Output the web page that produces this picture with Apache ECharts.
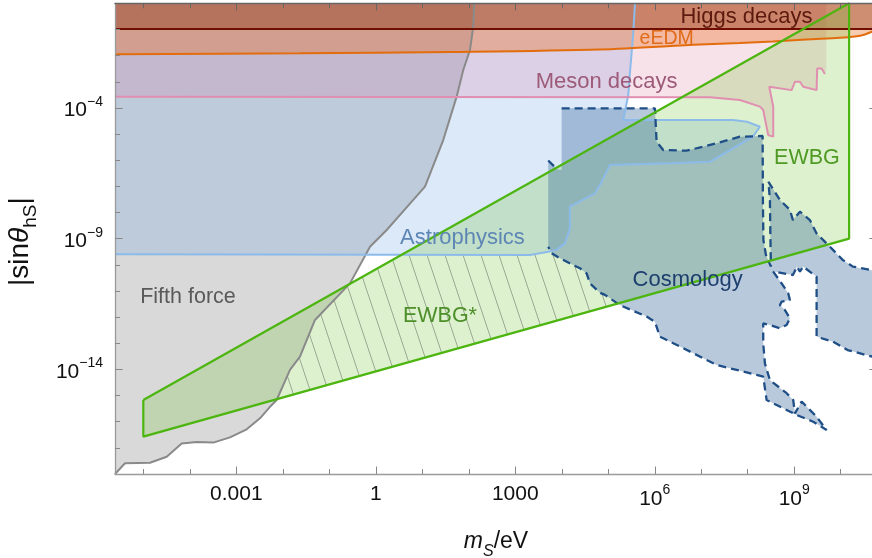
<!DOCTYPE html>
<html><head><meta charset="utf-8">
<script src="https://cdn.jsdelivr.net/npm/echarts@6/dist/echarts.min.js"></script>
<style>html,body{margin:0;padding:0;background:#fff}#c{width:872px;height:558px}</style>
</head><body><div id="c"></div>
<script>
const FONT = '"Liberation Sans", Arial, Helvetica, sans-serif';
// All coordinates below are log10(m_S / eV) and log10|sin theta_hS|
const xMin = -5.609, xMax = 10.78, yMin = -18, yMax = 0;
const xMajorTicks = [-3, 0, 3, 6, 9];
const xTickLabels = ['0.001', '1', '1000', '10^6', '10^9'];
const xMinorTicks = [-5, -4, -2, -1, 1, 2, 4, 5, 7, 8, 10];
const yMajorTicks = [-4, -9, -14];
const yTickLabels = ['10^-4', '10^-9', '10^-14'];
const yMinorTicks = [-17, -16, -15, -13, -12, -11, -10, -8, -7, -6, -5, -3, -2, -1];

const fifthForceEdge = [[-5.609,-18.0],[-5.394,-17.59],[-4.856,-17.57],[-4.497,-17.34],[-4.175,-16.83],[-3.852,-16.78],[-3.495,-16.80],[-3.136,-16.60],[-2.777,-16.29],[-2.491,-15.87],[-2.276,-15.43],[-2.132,-15.17],[-1.846,-14.02],[-1.631,-13.51],[-1.308,-12.11],[-0.555,-10.71],[-0.125,-9.31],[0.234,-8.67],[0.806,-7.52],[1.058,-7.01],[1.309,-5.87],[1.451,-5.23],[1.739,-3.57],[1.881,-2.55],[2.025,-1.79],[2.096,-0.89],[2.118,0]];

const astroEdge = [[-5.609,-9.60],[3.316,-9.625],[3.709,-9.50],[3.890,-9.43],[4.068,-9.18],[4.176,-8.60],[4.176,-7.78],[4.247,-7.71],[4.714,-7.27],[4.858,-6.82],[5.036,-6.18],[6.326,-6.12],[7.187,-6.06],[8.111,-5.10],[8.262,-4.72],[7.982,-4.53],[7.681,-4.46],[5.322,-4.46],[5.430,-3.51],[5.466,-2.67],[5.537,-1.15],[5.574,0]];

const mesonEdge = [[-5.609,-3.57],[7.187,-3.59],[7.832,-3.70],[8.262,-3.95],[8.333,-4.08],[8.440,-5.04],[8.548,-5.10],[8.548,-3.95],[8.462,-3.19],[8.944,-3.32],[9.015,-3.00],[9.122,-3.00],[9.193,-3.19],[9.481,-3.32],[9.494,-2.49],[9.589,-2.49],[9.660,-2.70],[9.692,-2.47],[9.692,0]];

const eedmEdge = [[-5.609,-1.950],[-1.631,-1.912],[1.595,-1.862],[4.821,-1.767],[6.972,-1.576],[7.832,-1.518],[8.542,-1.461],[9.251,-1.384],[9.982,-1.319],[10.305,-1.270],[10.520,-1.193],[10.671,-1.086],[10.78,-0.99]];

const higgsLevel = -0.98;

const ewbgCorners = [[-5.0,-15.17],[10.18,0],[10.18,-9.0],[-5.0,-16.57]];

const ewbgStarRegion = [[-2.136,-15.15],[-1.846,-14.02],[-1.631,-13.51],[-1.308,-12.11],[-0.598,-10.77],[0.552,-9.61],[3.316,-9.625],[3.709,-9.50],[3.782,-9.56],[3.961,-9.75],[4.247,-10.01],[4.391,-10.13],[4.535,-10.33],[4.606,-10.71],[4.821,-11.07],[4.929,-11.15],[5.208,-11.48]];

const cosmoEdge = [[3.997,-4.015],[6.004,-4.015],[6.040,-5.293],[6.182,-5.61],[6.686,-5.637],[7.331,-5.354],[7.832,-5.101],[8.320,-5.075],[8.326,-7.522],[8.337,-9.05],[8.391,-9.625],[8.499,-10.07],[8.488,-9.05],[8.477,-7.52],[8.445,-6.83],[8.692,-7.52],[8.907,-7.90],[8.972,-8.29],[9.122,-7.97],[9.337,-8.29],[9.481,-8.80],[9.767,-9.31],[10.047,-9.82],[10.262,-10.07],[10.78,-10.24],
[10.78,-13.56],[10.147,-13.26],[9.832,-12.94],[9.481,-12.75],[9.481,-10.46],[9.193,-10.07],[9.122,-10.26],[9.058,-10.07],[8.972,-10.39],[8.548,-10.26],[8.728,-10.71],[8.871,-11.09],[8.907,-11.35],[8.728,-11.41],[8.692,-11.54],[8.800,-11.73],[8.907,-12.05],[8.836,-12.30],[8.692,-12.43],[8.477,-12.30],[8.333,-12.24],[8.333,-13.00],[8.369,-13.77],[8.477,-14.41],[8.836,-14.91],[8.978,-15.17],[9.015,-15.68],[9.159,-15.23],[9.481,-15.81],[9.696,-16.32],[9.408,-16.00],[9.051,-15.74],[8.836,-15.55],[8.406,-15.17],[8.333,-14.28],[8.191,-14.21],[7.331,-13.83],[6.613,-13.19],[6.111,-12.75],[6.004,-12.18],[5.825,-11.98],[5.251,-11.54],[4.929,-11.15],[4.821,-11.07],[4.606,-10.71],[4.535,-10.33],[4.391,-10.13],[4.247,-10.01],[3.961,-9.75],[3.782,-9.56],[3.709,-9.31],
[3.709,-6.01],[3.907,-6.36],[3.997,-6.37]];

const regionLabels = ['Higgs decays', 'eEDM', 'Meson decays', 'EWBG', 'Astrophysics', 'Fifth force', 'EWBG*', 'Cosmology'];
const labelAnchors = [[7.972,-0.524],[6.256,-1.365],[4.965,-3.002],[9.273,-5.935],[1.864,-8.956],[-4.039,-11.25],[1.380,-11.95],[6.707,-10.57]];
const labelColors = ['#5c1a0e', '#e06b1a', '#9c5a78', '#4e9a24', '#5e86b5', '#5a5a5a', '#4e8f2a', '#1d3f6e'];
const labelSizes = [22, 19.5, 22, 21.5, 22, 21.5, 21.5, 22];

// hatch pattern
const hatch = document.createElement('canvas');
hatch.width = 18; hatch.height = 54;
(function(){ const c = hatch.getContext('2d'); c.strokeStyle = 'rgba(105,115,105,0.75)'; c.lineWidth = 0.75;
  [-18, 0, 18].forEach(d => { c.beginPath(); c.moveTo(d, 0); c.lineTo(d + 18, 54); c.stroke(); }); })();

function polygon(pts, fill) {
  return { type: 'custom', coordinateSystem: 'cartesian2d', xAxisIndex: 0, yAxisIndex: 0, clip: true, silent: true,
    data: [[pts[0][0], pts[0][1]]],
    renderItem: (params, api) => ({ type: 'polygon', shape: { points: pts.map(p => api.coord(p)) },
      style: { fill: fill, stroke: null } }) };
}
function line(pts, color, width, extra) {
  return Object.assign({ type: 'line', xAxisIndex: 0, yAxisIndex: 0, data: pts, symbol: 'none', silent: true, clip: true,
    lineStyle: { color: color, width: width } }, extra || {});
}
function fmt(s) {
  const m = s.match(/^10\^(.*)$/);
  return m ? '{b|10}{s|' + m[1].replace('-', '\u2212') + '}' : '{p|' + s + '}';
}
const rich = {
  p: { fontSize: 21, fontFamily: FONT, color: '#111', lineHeight: 22 },
  b: { fontSize: 21, fontFamily: FONT, color: '#111', lineHeight: 26, verticalAlign: 'bottom' },
  s: { fontSize: 14, fontFamily: FONT, color: '#111', lineHeight: 16, verticalAlign: 'top' }
};
function lab(ticks, labels) {
  return { show: true, customValues: ticks, formatter: v => { const i = ticks.findIndex(t => Math.abs(t - v) < 1e-6); return i < 0 ? '' : fmt(labels[i]); }, rich: rich };
}
const axisCommon = { type: 'value', splitLine: { show: false }, z: 10 };
function axLine(show, color) { return { show: show, onZero: false, lineStyle: { color: color, width: 1.3 } }; }

const xAxes = [
  Object.assign({}, axisCommon, { gridIndex: 0, position: 'bottom', min: xMin, max: xMax,
    axisLine: axLine(true, '#9a9a9a'),
    axisTick: { show: true, inside: true, length: 7.5, customValues: xMajorTicks, lineStyle: { color: '#888', width: 1 } },
    axisLabel: Object.assign(lab(xMajorTicks, xTickLabels), { margin: 9.5 }),
    name: '{i|m}{sub|S}{n|/eV}', nameLocation: 'middle', nameGap: 56,
    nameTextStyle: { rich: {
      i: { fontSize: 23, fontStyle: 'italic', fontFamily: FONT, color: '#111', lineHeight: 30, verticalAlign: 'top' },
      sub: { fontSize: 16, fontStyle: 'italic', fontFamily: FONT, color: '#111', lineHeight: 16, verticalAlign: 'bottom' },
      n: { fontSize: 23, fontFamily: FONT, color: '#111', lineHeight: 30, verticalAlign: 'top' } } } }),
  Object.assign({}, axisCommon, { gridIndex: 0, position: 'top', min: xMin, max: xMax,
    axisLine: axLine(true, '#666'),
    axisTick: { show: true, inside: true, length: 7, customValues: xMajorTicks, lineStyle: { color: '#666', width: 1 } },
    axisLabel: { show: false } }),
  Object.assign({}, axisCommon, { gridIndex: 1, position: 'bottom', min: xMin, max: xMax,
    axisLine: axLine(false, '#888'), axisLabel: { show: false },
    axisTick: { show: true, inside: true, length: 5, customValues: xMinorTicks, lineStyle: { color: '#888', width: 1 } } }),
  Object.assign({}, axisCommon, { gridIndex: 1, position: 'top', min: xMin, max: xMax,
    axisLine: axLine(false, '#666'), axisLabel: { show: false },
    axisTick: { show: true, inside: true, length: 5, customValues: xMinorTicks, lineStyle: { color: '#666', width: 1 } } })
];
const yAxes = [
  Object.assign({}, axisCommon, { gridIndex: 0, position: 'left', min: yMin, max: yMax,
    axisLine: axLine(true, '#9a9a9a'),
    axisTick: { show: true, inside: true, length: 7.7, customValues: yMajorTicks, lineStyle: { color: '#888', width: 1 } },
    axisLabel: Object.assign(lab(yMajorTicks, yTickLabels), { margin: 12 }),
    name: '{a||sin}{t|\u03b8}{s|hS}{a||}', nameLocation: 'middle', nameGap: 75,
    nameTextStyle: { padding: [0, 6, 0, 0], rich: {
      a: { fontSize: 28, fontFamily: FONT, color: '#111', lineHeight: 34, verticalAlign: 'top' },
      t: { fontSize: 28, fontStyle: 'italic', fontFamily: FONT, color: '#111', lineHeight: 34, verticalAlign: 'top' },
      s: { fontSize: 19, fontFamily: FONT, color: '#111', lineHeight: 20, verticalAlign: 'bottom' } } } }),
  Object.assign({}, axisCommon, { gridIndex: 0, position: 'right', min: yMin, max: yMax,
    axisLine: axLine(false, '#888'), axisLabel: { show: false },
    axisTick: { show: true, inside: true, length: 7.7, customValues: yMajorTicks, lineStyle: { color: '#888', width: 1 } } }),
  Object.assign({}, axisCommon, { gridIndex: 1, position: 'left', min: yMin, max: yMax,
    axisLine: axLine(false, '#888'), axisLabel: { show: false },
    axisTick: { show: true, inside: true, length: 5, customValues: yMinorTicks, lineStyle: { color: '#888', width: 1 } } }),
  Object.assign({}, axisCommon, { gridIndex: 1, position: 'right', min: yMin, max: yMax,
    axisLine: axLine(false, '#888'), axisLabel: { show: false },
    axisTick: { show: true, inside: true, length: 5, customValues: yMinorTicks, lineStyle: { color: '#888', width: 1 } } })
];

const dash = { color: '#1f4f86', width: 2.3, type: [8, 5] };
const series = [
  polygon(fifthForceEdge.concat([[xMin, yMax]]), 'rgba(128,128,128,0.30)'),
  polygon([[xMin, yMax]].concat(astroEdge), 'rgba(100,160,230,0.23)'),
  polygon([[xMin, yMax]].concat(mesonEdge), 'rgba(220,110,150,0.20)'),
  polygon(eedmEdge.concat([[xMax, yMax], [xMin, yMax]]), 'rgba(235,110,30,0.35)'),
  polygon([[xMin, higgsLevel], [xMax, higgsLevel], [xMax, yMax], [xMin, yMax]], 'rgba(140,50,20,0.40)'),
  polygon(ewbgCorners, 'rgba(120,200,60,0.25)'),
  polygon(cosmoEdge, 'rgba(40,90,150,0.33)'),
  polygon(ewbgStarRegion, { image: hatch, repeat: 'repeat' }),
  line(fifthForceEdge, '#8a8a8a', 2),
  line(astroEdge, '#8cbbea', 2),
  line(mesonEdge.slice(0, 17), '#e08fb0', 2),
  line(eedmEdge, '#e36c0c', 2, { smooth: 0.3 }),
  line([[xMin, higgsLevel], [xMax, higgsLevel]], '#6e0d00', 2),
  line(cosmoEdge.slice(0, 25), '#1f4f86', 2.3, { lineStyle: dash }),
  line(cosmoEdge.slice(25, 76), '#1f4f86', 2.3, { lineStyle: dash }),
  line(cosmoEdge.slice(76, 78), '#1f4f86', 2.3, { lineStyle: dash }),
  line(ewbgCorners.concat([ewbgCorners[0]]), '#4cb50f', 2.2),
  { type: 'custom', coordinateSystem: 'cartesian2d', xAxisIndex: 0, yAxisIndex: 0, silent: true, z: 5,
    data: labelAnchors.map((p, i) => [p[0], p[1], i]),
    renderItem: (params, api) => {
      const i = api.value(2); const pt = api.coord([api.value(0), api.value(1)]);
      return { type: 'text', x: pt[0], y: pt[1], style: { text: regionLabels[i], fill: labelColors[i],
        fontSize: labelSizes[i], fontFamily: FONT, align: 'center', verticalAlign: 'middle' } };
    } }
];

const gridBox = { left: 115, right: -5, top: 3.3, bottom: 84, containLabel: false, outerBoundsMode: 'none' };
const chart = echarts.init(document.getElementById('c'), null, { renderer: 'canvas' });
chart.setOption({
  animation: false,
  backgroundColor: '#fff',
  grid: [Object.assign({}, gridBox), Object.assign({}, gridBox)],
  xAxis: xAxes,
  yAxis: yAxes,
  series: series
});
</script></body></html>
